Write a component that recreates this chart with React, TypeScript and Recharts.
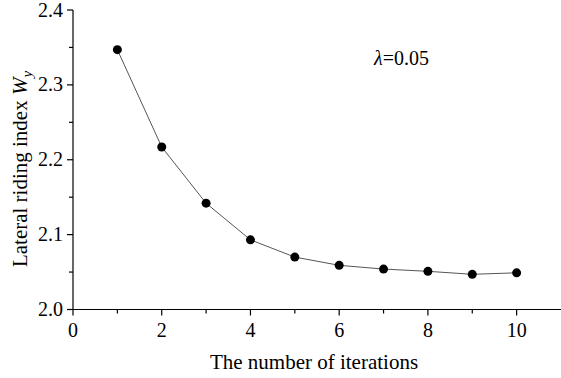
import { LineChart, Line, XAxis, YAxis } from 'recharts';

const iterations = [1, 2, 3, 4, 5, 6, 7, 8, 9, 10];
const wyValues = [2.347, 2.217, 2.142, 2.093, 2.07, 2.059, 2.054, 2.051, 2.047, 2.049];
const xTicks = [0, 1, 2, 3, 4, 5, 6, 7, 8, 9, 10];
const xLabeled = [0, 2, 4, 6, 8, 10];
const yTicks = [2.0, 2.05, 2.1, 2.15, 2.2, 2.25, 2.3, 2.35, 2.4];
const yLabeled = ['2.0', '2.1', '2.2', '2.3', '2.4'];

const data = iterations.map((n, i) => ({ n, wy: wyValues[i] }));

const FONT = '"Liberation Serif", "Times New Roman", serif';

function XTick(props: any) {
  const { x, y, payload } = props;
  const major = xLabeled.includes(payload.value);
  return (
    <g>
      <line x1={x} y1={y} x2={x} y2={y + (major ? 6 : 4)} stroke="#000" strokeWidth={1.2} />
      {major && (
        <text x={x} y={y + 27} textAnchor="middle" fontFamily={FONT} fontSize={20} fill="#000">
          {payload.value}
        </text>
      )}
    </g>
  );
}

function YTick(props: any) {
  const { x, y, payload } = props;
  const label = payload.value.toFixed(1);
  const major = yLabeled.includes(label) && Math.abs(payload.value * 10 - Math.round(payload.value * 10)) < 1e-6;
  return (
    <g>
      <line x1={x} y1={y} x2={x - (major ? 6 : 4)} y2={y} stroke="#000" strokeWidth={1.2} />
      {major && (
        <text x={x - 10} y={y + 6.5} textAnchor="end" fontFamily={FONT} fontSize={20} fill="#000">
          {label}
        </text>
      )}
    </g>
  );
}

function YTitle() {
  return (
    <text
      transform="rotate(-90, 27, 169)"
      x={27}
      y={169}
      textAnchor="middle"
      fontFamily={FONT}
      fontSize={21}
      fill="#000"
    >
      Lateral riding index <tspan fontStyle="italic">W</tspan>
      <tspan fontStyle="italic" fontSize={15} dy={5}>y</tspan>
    </text>
  );
}

function XTitle() {
  return (
    <text x={314} y={369} textAnchor="middle" fontFamily={FONT} fontSize={21} fill="#000">
      The number of iterations
    </text>
  );
}

export default function App() {
  return (
    <div style={{ position: 'relative', width: 561, height: 378, background: '#fff' }}>
      <style>{'body{margin:0}'}</style>
      <LineChart width={561} height={378} data={data} margin={{ top: 10, right: 0, left: 0, bottom: 0 }}>
        <XAxis
          dataKey="n"
          type="number"
          domain={[0, 11]}
          ticks={xTicks}
          interval={0}
          height={68.5}
          tickSize={0}
          tickMargin={0}
          tickLine={false}
          tick={XTick}
          axisLine={{ stroke: '#000', strokeWidth: 1.2 }}
          label={{ content: () => <XTitle /> }}
        />
        <YAxis
          type="number"
          domain={[2.0, 2.4]}
          ticks={yTicks}
          interval={0}
          width={73}
          tickSize={0}
          tickMargin={0}
          tickLine={false}
          tick={YTick}
          axisLine={{ stroke: '#000', strokeWidth: 1.2 }}
          label={{ content: () => <YTitle /> }}
        />
        <Line
          dataKey="wy"
          type="linear"
          stroke="#555"
          strokeWidth={1}
          dot={{ r: 4.5, fill: '#000', stroke: '#000', strokeWidth: 0 }}
          isAnimationActive={false}
        />
      </LineChart>
      <div
        style={{
          position: 'absolute',
          left: 374,
          top: 47,
          fontFamily: FONT,
          fontSize: 20,
          color: '#000',
        }}
      >
        <i>λ</i>=0.05
      </div>
    </div>
  );
}
